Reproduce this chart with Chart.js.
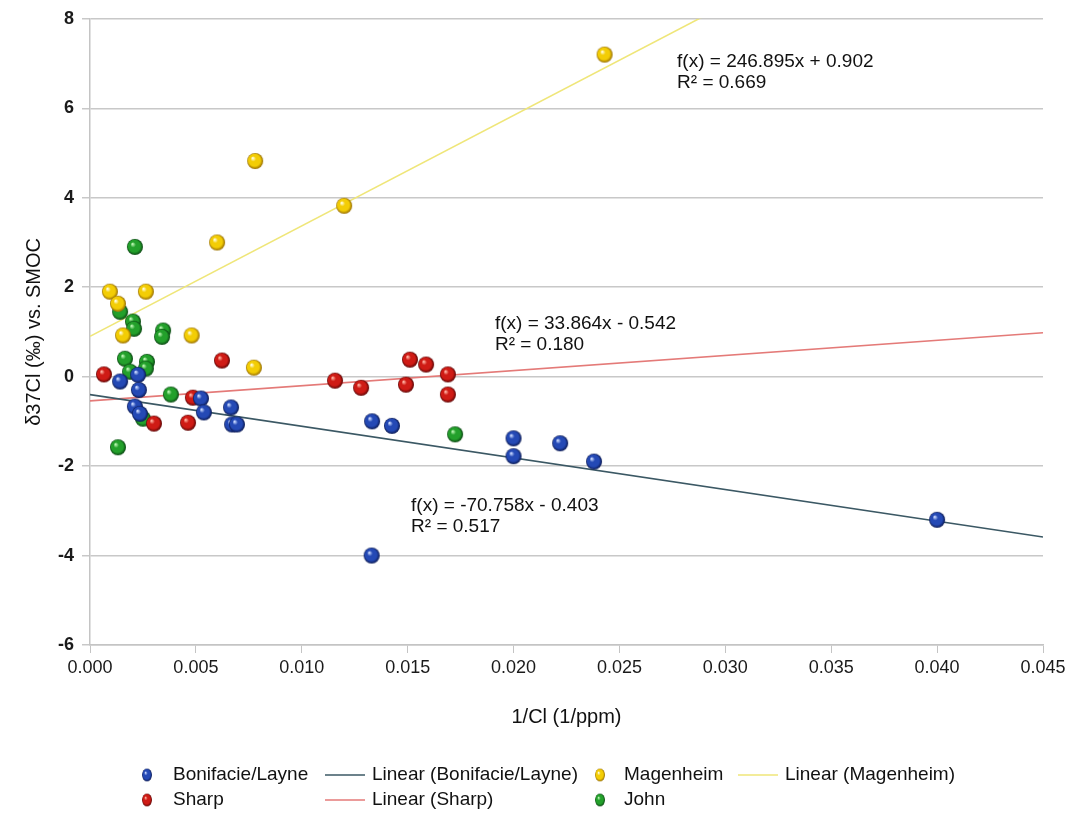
<!DOCTYPE html>
<html>
<head>
<meta charset="utf-8">
<script src="https://cdn.jsdelivr.net/npm/chart.js@4/dist/chart.umd.min.js"></script>
<style>
  html, body { margin: 0; padding: 0; background: #ffffff; }
  #wrap { width: 1075px; height: 816px; position: relative; }
</style>
</head>
<body>
<div id="wrap"><canvas id="c" width="1075" height="816"></canvas></div>
<script>
// 1/Cl (1/ppm) and δ37Cl (‰ vs. SMOC) for each source
const bonifacieX = [0.00142, 0.00227, 0.00231, 0.00212, 0.00236, 0.00524, 0.00538, 0.00666, 0.00671, 0.00694, 0.01332, 0.01426, 0.0200, 0.0200, 0.0222, 0.0238, 0.0400, 0.0133];
const bonifacieY = [-0.11, 0.04, -0.30, -0.67, -0.83, -0.49, -0.80, -0.69, -1.07, -1.07, -1.00, -1.10, -1.38, -1.78, -1.49, -1.90, -3.20, -4.00];

const sharpX = [0.00066, 0.00302, 0.00463, 0.00486, 0.00623, 0.01157, 0.0128, 0.01492, 0.01511, 0.01587, 0.0169, 0.0169];
const sharpY = [0.05, -1.05, -1.03, -0.47, 0.36, -0.09, -0.25, -0.18, 0.38, 0.27, 0.05, -0.40];

const magenheimX = [0.00094, 0.00132, 0.00156, 0.00264, 0.0048, 0.0060, 0.00774, 0.0078, 0.0120, 0.0243];
const magenheimY = [1.90, 1.63, 0.92, 1.90, 0.92, 3.00, 0.20, 4.82, 3.82, 7.20];

const johnX = [0.00212, 0.00142, 0.00203, 0.00208, 0.00345, 0.0034, 0.00165, 0.00269, 0.00264, 0.00189, 0.00382, 0.0025, 0.00132, 0.01724];
const johnY = [2.90, 1.45, 1.23, 1.07, 1.03, 0.89, 0.40, 0.33, 0.18, 0.11, -0.40, -0.94, -1.58, -1.29];

// Linear fits: [Bonifacie/Layne, Magenheim, Sharp]
const fitNames = ['Bonifacie/Layne', 'Magenheim', 'Sharp'];
const fitSlopes = [-70.758, 246.895, 33.864];
const fitIntercepts = [-0.403, 0.902, -0.542];
const fitR2 = [0.517, 0.669, 0.180];

// Axis ticks
const xTicks = [0.000, 0.005, 0.010, 0.015, 0.020, 0.025, 0.030, 0.035, 0.040, 0.045];
const yTicks = [-6, -4, -2, 0, 2, 4, 6, 8];

const xMin = xTicks[0], xMax = xTicks[xTicks.length - 1];
const yMin = yTicks[0], yMax = yTicks[yTicks.length - 1];

function pts(xs, ys) { return xs.map((x, i) => ({ x: x, y: ys[i] })); }
function fitLine(k) {
  return [xMin, xMax].map(x => ({ x: x, y: fitSlopes[k] * x + fitIntercepts[k] }));
}

// Shaded sphere markers
function sphere(light, base, dark) {
  const r = 8, s = 18;
  const cv = document.createElement('canvas');
  cv.width = s; cv.height = s;
  const g = cv.getContext('2d');
  const c = s / 2;
  const grad = g.createRadialGradient(c - 2.5, c - 3, 0.5, c, c, r);
  grad.addColorStop(0, light);
  grad.addColorStop(0.3, base);
  grad.addColorStop(0.72, base);
  grad.addColorStop(1, dark);
  g.beginPath();
  g.arc(c, c, r, 0, Math.PI * 2);
  g.fillStyle = grad;
  g.fill();
  return cv;
}
const blueBall = sphere('#c8d8ff', '#2449b5', '#0a1850');
const redBall = sphere('#ffb0a0', '#cf1b15', '#5a0303');
const yellowBall = sphere('#fffde0', '#f3cd05', '#946a00');
const greenBall = sphere('#b8f5b0', '#23a02b', '#084210');

const lineColors = ['#3b5864', '#efe679', '#e47a78'];

const scatterBase = { type: 'scatter', showLine: false, pointRadius: 8, pointHoverRadius: 8 };
const lineBase = { type: 'scatter', showLine: true, pointRadius: 0, pointHoverRadius: 0, borderWidth: 1.6, fill: false, order: 10 };

const datasets = [
  Object.assign({}, scatterBase, { label: 'Bonifacie/Layne', data: pts(bonifacieX, bonifacieY), pointStyle: blueBall, backgroundColor: '#2449b5', order: 2 }),
  Object.assign({}, lineBase, { label: 'Linear (Bonifacie/Layne)', data: fitLine(0), borderColor: lineColors[0] }),
  Object.assign({}, scatterBase, { label: 'Magenheim', data: pts(magenheimX, magenheimY), pointStyle: yellowBall, backgroundColor: '#f3cd05', order: 1 }),
  Object.assign({}, lineBase, { label: 'Linear (Magenheim)', data: fitLine(1), borderColor: lineColors[1] }),
  Object.assign({}, scatterBase, { label: 'Sharp', data: pts(sharpX, sharpY), pointStyle: redBall, backgroundColor: '#cf1b15', order: 3 }),
  Object.assign({}, lineBase, { label: 'Linear (Sharp)', data: fitLine(2), borderColor: lineColors[2] }),
  Object.assign({}, scatterBase, { label: 'John', data: pts(johnX, johnY), pointStyle: greenBall, backgroundColor: '#23a02b', order: 4 })
];

// Equation labels, anchored in data units (left edge, first line)
const eqAnchors = [
  { x: 0.01516, y: -2.88 },
  { x: 0.02772, y: 7.03 },
  { x: 0.01912, y: 1.18 }
];

function fmtEq(k) {
  const m = fitSlopes[k], b = fitIntercepts[k];
  return 'f(x) = ' + m.toFixed(3) + 'x ' + (b < 0 ? '- ' : '+ ') + Math.abs(b).toFixed(3);
}

const equationPlugin = {
  id: 'equations',
  afterDatasetsDraw(chart) {
    const ctx = chart.ctx, xs = chart.scales.x, ys = chart.scales.y;
    ctx.save();
    ctx.fillStyle = '#111';
    ctx.font = '19px "Liberation Sans", Arial, sans-serif';
    ctx.textBaseline = 'middle';
    ctx.textAlign = 'left';
    eqAnchors.forEach((a, k) => {
      const px = xs.getPixelForValue(a.x), py = ys.getPixelForValue(a.y);
      ctx.fillText(fmtEq(k), px, py);
      ctx.fillText('R\u00B2 = ' + fitR2[k].toFixed(3), px, py + 21);
    });
    ctx.restore();
  }
};

// Four-column legend under the axis title
const legendPlugin = {
  id: 'gridLegend',
  afterDraw(chart) {
    const ctx = chart.ctx;
    const colMark = [147, 345, 600, 758];
    const colText = [173, 372, 624, 785];
    const rowY = [775, 800];
    ctx.save();
    ctx.font = '19px "Liberation Sans", Arial, sans-serif';
    ctx.fillStyle = '#111';
    ctx.textBaseline = 'middle';
    ctx.textAlign = 'left';
    chart.data.datasets.forEach((ds, i) => {
      const col = i % 4, row = Math.floor(i / 4);
      const y = rowY[row];
      if (ds.showLine) {
        ctx.strokeStyle = ds.borderColor;
        ctx.lineWidth = 1.6;
        ctx.beginPath();
        ctx.moveTo(colMark[col] - 20, y);
        ctx.lineTo(colMark[col] + 20, y);
        ctx.stroke();
      } else {
        const img = ds.pointStyle;
        ctx.save();
        ctx.translate(colMark[col], y);
        ctx.scale(0.62, 0.8);
        ctx.drawImage(img, -img.width / 2, -img.height / 2);
        ctx.restore();
      }
      ctx.fillText(ds.label, colText[col], y);
    });
    ctx.restore();
  }
};

new Chart(document.getElementById('c'), {
  type: 'scatter',
  data: { datasets: datasets },
  options: {
    responsive: false,
    animation: false,
    devicePixelRatio: 1,
    layout: { padding: { left: 0, right: 32, top: 17, bottom: 71 } },
    plugins: { legend: { display: false }, tooltip: { enabled: false } },
    scales: {
      x: {
        type: 'linear',
        min: xMin, max: xMax,
        afterFit: s => { s.height = 100; },
        afterBuildTicks: s => { s.ticks = xTicks.map(v => ({ value: v })); },
        ticks: {
          color: '#1a1a1a',
          font: { family: '"Liberation Sans", Arial, sans-serif', size: 18 },
          padding: 4,
          maxRotation: 0,
          callback: v => Number(v).toFixed(3)
        },
        grid: { color: 'rgba(0,0,0,0)', tickColor: '#c4c4c4', tickLength: 8, drawTicks: true },
        border: { display: true, color: '#c4c4c4', width: 1.5 },
        title: {
          display: true,
          text: '1/Cl (1/ppm)',
          color: '#111',
          font: { family: '"Liberation Sans", Arial, sans-serif', size: 20 },
          padding: { top: 0, bottom: 16 }
        }
      },
      y: {
        type: 'linear',
        min: yMin, max: yMax,
        afterFit: s => { s.width = 90; },
        afterBuildTicks: s => { s.ticks = yTicks.map(v => ({ value: v })); },
        ticks: {
          color: '#1a1a1a',
          font: { family: '"Liberation Sans", Arial, sans-serif', size: 18, weight: 'bold' },
          padding: 8,
          callback: v => String(v)
        },
        grid: { color: '#c8c8c8', tickColor: '#c8c8c8', tickLength: 8, lineWidth: 1.5 },
        border: { display: true, color: '#c4c4c4', width: 1.5 },
        title: {
          display: true,
          text: 'δ37Cl (‰) vs. SMOC',
          color: '#111',
          font: { family: '"Liberation Sans", Arial, sans-serif', size: 20 },
          padding: { top: 22, bottom: 0 }
        }
      }
    }
  },
  plugins: [equationPlugin, legendPlugin]
});
</script>
</body>
</html>
